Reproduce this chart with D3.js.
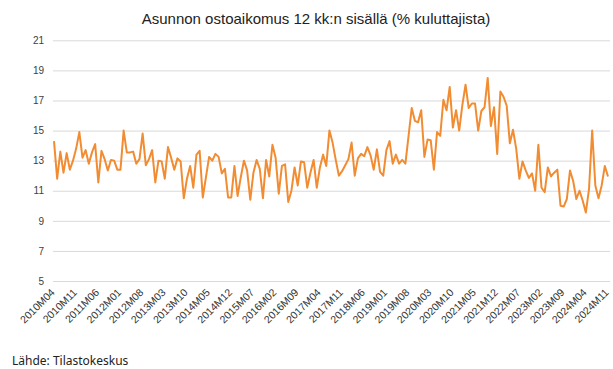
<!DOCTYPE html>
<html>
<head>
<meta charset="utf-8">
<script src="https://cdn.jsdelivr.net/npm/d3@7"></script>
<style>
  body { margin: 0; background: #fff; }
  svg text { font-family: "Liberation Sans", Arial, sans-serif; }
</style>
</head>
<body>
<div id="canvas"></div>
<script>
var title = 'Asunnon ostoaikomus 12 kk:n sisällä (% kuluttajista)';
var source = 'Lähde: Tilastokeskus';

// share of consumers planning to buy a home, monthly 2010M04 - 2024M11
var values = [
  14.3, 11.8, 13.6, 12.2, 13.5, 12.4, 13.0, 13.8, 14.9, 13.2,
  13.7, 12.8, 13.55, 14.1, 11.55, 13.65, 13.1, 12.35, 13.05, 13.0,
  12.4, 12.4, 15.0, 13.55, 13.55, 13.6, 12.8, 13.1, 14.8, 12.7,
  13.1, 13.7, 11.55, 13.0, 12.95, 11.8, 13.9, 13.2, 12.4, 13.15,
  12.95, 10.5, 11.8, 12.65, 11.2, 13.4, 13.65, 10.55, 11.9, 13.25,
  13.0, 13.45, 13.25, 12.15, 12.45, 10.55, 10.55, 12.65, 10.65, 11.9,
  13.0, 12.35, 10.4, 12.2, 13.05, 12.45, 10.5, 13.05, 11.95, 14.05,
  13.2, 10.8, 12.65, 12.75, 10.25, 11.0, 12.55, 11.35, 12.95, 12.9,
  11.2, 12.2, 13.05, 11.2, 12.55, 13.4, 12.65, 15.0, 14.2, 13.05,
  12.0, 12.3, 12.7, 13.1, 14.2, 12.0, 13.15, 13.45, 13.3, 13.9,
  13.35, 12.4, 13.75, 12.25, 12.0, 13.7, 14.3, 12.8, 13.4, 12.8,
  13.05, 12.8, 14.65, 16.5, 15.65, 15.55, 16.35, 13.25, 14.4, 14.35,
  12.4, 14.9, 14.65, 17.05, 16.35, 17.9, 15.2, 16.35, 15.0, 16.7,
  18.05, 16.5, 16.8, 16.8, 15.0, 16.3, 16.55, 18.5, 15.3, 16.55,
  13.45, 17.6, 17.25, 16.65, 14.15, 15.05, 13.8, 11.8, 12.95, 12.35,
  11.85, 12.15, 11.0, 14.05, 11.2, 10.9, 12.55, 11.95, 12.2, 12.4,
  10.0, 9.95, 10.45, 12.35, 11.65, 10.45, 11.0, 10.35, 9.55, 11.1,
  15.0, 11.35, 10.5, 11.35, 12.65, 11.95
];

var yTicks = [5, 7, 9, 11, 13, 15, 17, 19, 21];
var xTickLabels = ['2010M04','2010M11','2011M06','2012M01','2012M08','2013M03',
  '2013M10','2014M05','2014M12','2015M07','2016M02','2016M09','2017M04',
  '2017M11','2018M06','2019M01','2019M08','2020M03','2020M10','2021M05',
  '2021M12','2022M07','2023M02','2023M09','2024M04','2024M11'];

// month categories
var months = [];
for (var i = 0; i < values.length; i++) {
  var mm = 3 + i;
  var yr = 2010 + Math.floor(mm / 12);
  var mo = mm % 12 + 1;
  months.push(yr + 'M' + (mo < 10 ? '0' + mo : mo));
}
var rows = months.map(function(m, i){ return {month: m, value: values[i]}; });

var outerWidth = 613, outerHeight = 369;

var svg = d3.select('#canvas')
  .append('svg')
  .attr('width', outerWidth)
  .attr('height', outerHeight);

//Scale
var scaleX = d3.scalePoint()
  .domain(months)
  .range([54, 608]);
var scaleY = d3.scaleLinear()
  .domain([5, 21])
  .range([281, 40.3]);

//Gridlines
var axisY = d3.axisLeft()
  .scale(scaleY)
  .tickValues(yTicks)
  .tickSize(-(610 - 53))
  .tickPadding(9);

var gy = svg.append('g').attr('class', 'axis axis-y')
  .attr('transform', 'translate(53,0)')
  .call(axisY);
gy.select('.domain').remove();
gy.selectAll('line').style('stroke', '#d9d9d9').style('stroke-width', '1px');
gy.selectAll('text').style('font-size', '10px').style('fill', '#404040');

//X axis labels
var axisX = d3.axisBottom()
  .scale(scaleX)
  .tickValues(xTickLabels)
  .tickSize(0);

var gx = svg.append('g').attr('class', 'axis axis-x')
  .attr('transform', 'translate(0,283)')
  .call(axisX);
gx.select('.domain').remove();
gx.selectAll('text')
  .style('font-size', '10.5px')
  .style('fill', '#333')
  .attr('text-anchor', 'end')
  .attr('dy', null)
  .attr('y', 0)
  .attr('transform', 'translate(1,10) rotate(-45)');

//Line
var lineGenerator = d3.line()
  .x(function(d){ return scaleX(d.month); })
  .y(function(d){ return scaleY(d.value); });

svg.append('path')
  .datum(rows)
  .attr('d', lineGenerator)
  .style('fill', 'none')
  .style('stroke', '#f28c32')
  .style('stroke-width', '2px')
  .style('stroke-linejoin', 'round');

//Title
svg.append('text')
  .attr('x', 316)
  .attr('y', 24)
  .attr('text-anchor', 'middle')
  .style('font-size', '15px')
  .style('fill', '#222')
  .text(title);

//Source
svg.append('text')
  .attr('x', 12)
  .attr('y', 365)
  .style('font-family', '"Noto Sans", "Open Sans", sans-serif')
  .style('font-size', '12px')
  .style('fill', '#222')
  .text(source);
</script>
</body>
</html>
